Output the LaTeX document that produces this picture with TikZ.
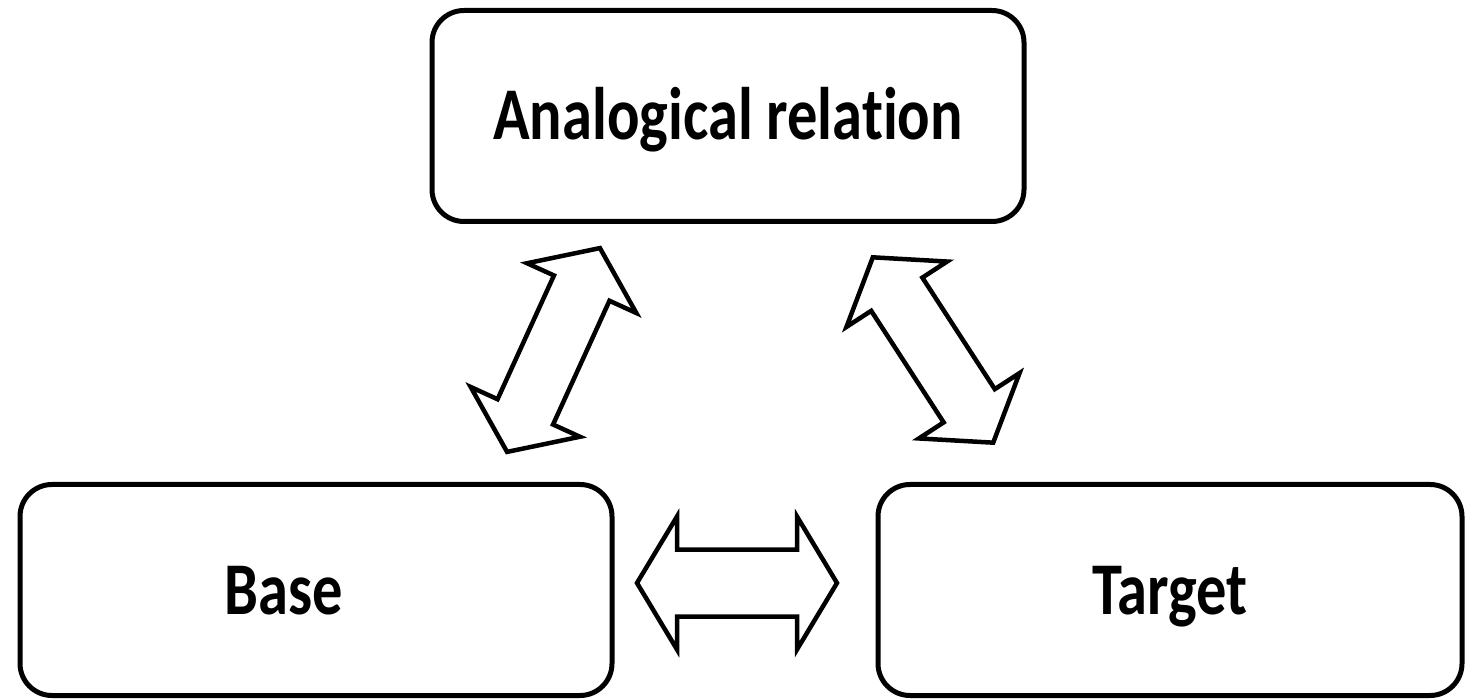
\documentclass[tikz,border=0pt]{standalone}
\usepackage{fontspec}
\usepackage{graphicx}
\setmainfont{Carlito}[Ligatures=NoCommon]
\newcommand\dblarr[6]{% #1 centre, #2 angle, #3 half length, #4 head length, #5 half head width, #6 half shaft width
  \draw[blockarr,shift={(#1)},rotate=#2]
    (-#3,0) -- (-#3+#4,#5) -- (-#3+#4,#6) -- (#3-#4,#6) -- (#3-#4,#5) -- (#3,0)
    -- (#3-#4,-#5) -- (#3-#4,-#6) -- (-#3+#4,-#6) -- (-#3+#4,-#5) -- cycle;}
\newcommand\lbl[1]{\scalebox{1}[1.23]{#1}}
\begin{document}
\begin{tikzpicture}[x=1pt,y=1pt,
  box/.style={draw=black,line width=5pt,rounded corners=32pt,minimum width=592pt,minimum height=211pt,
    inner sep=0pt,text height=48pt,text depth=0pt,font=\fontsize{60.5}{70}\selectfont\bfseries},
  blockarr/.style={draw=black,line width=4.5pt,fill=white,line join=miter}]
\useasboundingbox (0,0) rectangle (1466,699);
\node[box] (rel) at (728,583) {\lbl{Analogical relation}};
\node[box] (base) at (316,109) {\lbl{Base}\kern65pt};
\node[box,minimum width=584pt] (target) at (1170,109) {\lbl{Target}};
\coordinate (ab) at (553.5,349);
\coordinate (at) at (933,349);
\coordinate (bt) at (737,116);
\dblarr{ab}{65.5}{112}{44}{60}{30.5}
\dblarr{at}{-57}{110.5}{44}{60}{30.5}
\dblarr{bt}{0}{100}{40}{66.5}{33.5}
\end{tikzpicture}
\end{document}
